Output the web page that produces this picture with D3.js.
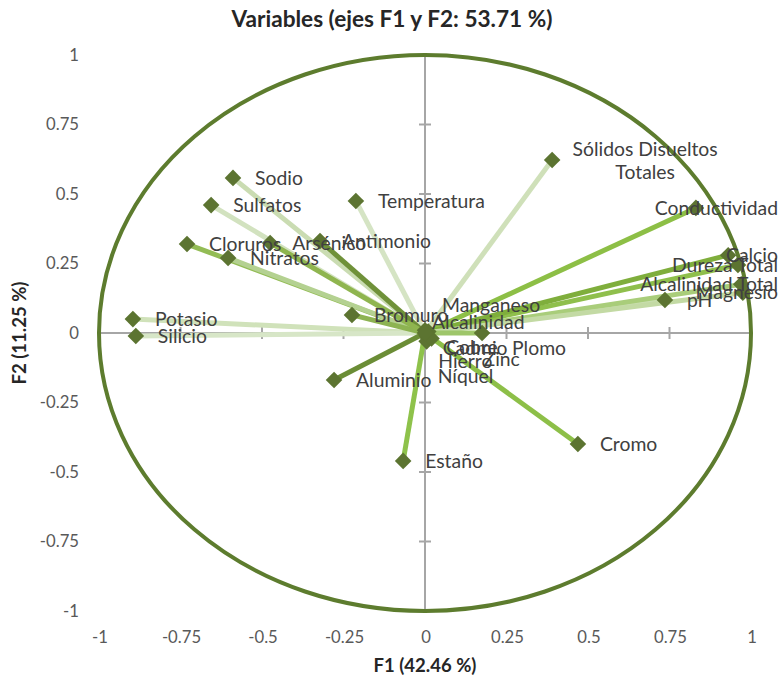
<!DOCTYPE html>
<html><head><meta charset="utf-8">
<script src="https://cdn.jsdelivr.net/npm/d3@7"></script>
<style>body{margin:0;background:#fff}svg{display:block}</style>
</head><body>
<script>
// ---- data ----
const variables = ["Temperatura","pH","Conductividad","Sólidos Disueltos Totales","Alcalinidad Total","Dureza Total","Calcio","Magnesio","Sodio","Potasio","Cloruros","Sulfatos","Nitratos","Silicio","Bromuro","Aluminio","Antimonio","Arsénico","Cadmio","Cobre","Cromo","Estaño","Hierro","Manganeso","Níquel","Plomo","Zinc","Alcalinidad"];
const f1 = [-0.212,0.736,0.831,0.390,0.970,0.960,0.930,0.975,-0.589,-0.896,-0.730,-0.656,-0.604,-0.887,-0.224,-0.279,-0.322,-0.475,0.005,0.010,0.469,-0.067,0.010,0.000,0.005,0.175,0.020,0.000];
const f2 = [0.475,0.119,0.450,0.622,0.175,0.245,0.280,0.145,0.558,0.050,0.320,0.460,0.270,-0.011,0.065,-0.169,0.331,0.324,-0.010,0.005,-0.399,-0.460,-0.020,0.010,-0.030,0.000,-0.020,0.000];
const ticks = [-1,-0.75,-0.5,-0.25,0,0.25,0.5,0.75,1];
const title = "Variables (ejes F1 y F2: 53.71 %)";
const xTitle = "F1 (42.46 %)";
const yTitle = "F2 (11.25 %)";

// ---- styles (not data) ----
const lineColors = {"Temperatura":"#d5e4c4","pH":"#c9deb0","Conductividad":"#8dbf46","Sólidos Disueltos Totales":"#cfe0b9","Alcalinidad Total":"#a9cd7a","Dureza Total":"#8fbf4c","Calcio":"#7fae3c","Magnesio":"#c3daa4","Sodio":"#cadcb2","Potasio":"#d0e2ba","Cloruros":"#93bc55","Sulfatos":"#d2e2bf","Nitratos":"#b4d191","Silicio":"#d7e6c7","Bromuro":"#8db352","Aluminio":"#6b8d36","Antimonio":"#6f9139","Arsénico":"#8fb54f","Cromo":"#8dbf48","Estaño":"#8ec24b","Plomo":"#9ec66a"};
const labelNudge = {"Manganeso":[17,-25],"Alcalinidad":[7,-11],"Cadmio":[16,12],"Cobre":[18,16],"Plomo":[30,15],"Hierro":[10,23],"Zinc":[52,21],"Níquel":[11,35]};

const W=782,H=684;
const svg=d3.select("body").append("svg").attr("width",W).attr("height",H);
const FONT="Lato, 'Open Sans', sans-serif";

const x=d3.scaleLinear().domain([-1,1]).range([99,751]);
const y=d3.scaleLinear().domain([-1,1]).range([611,55]);

function fitSize(str,target,weight){
  const t=svg.append("text").attr("font-family",FONT).attr("font-size",100).attr("font-weight",weight||"normal").text(str);
  const w=t.node().getComputedTextLength(); t.remove();
  return 100*target/w;
}
const labelSize=fitSize("Temperatura",107);
const tickSize=fitSize("0.75",33);
const titleSize=fitSize(title,321,"bold");
const axTitleSize=fitSize(xTitle,103,"bold");
const fmt=d=>String(d);

// axes (gray through origin)
const axisG=svg.append("g").attr("stroke","#a6a6a6").attr("stroke-width",2);
axisG.append("line").attr("x1",x(-1)).attr("x2",x(1)).attr("y1",y(0)).attr("y2",y(0));
axisG.append("line").attr("x1",x(0)).attr("x2",x(0)).attr("y1",y(1)).attr("y2",y(-1));
axisG.selectAll(".tx").data(ticks).join("line").attr("x1",d=>x(d)).attr("x2",d=>x(d)).attr("y1",y(0)-6).attr("y2",y(0)+6);
axisG.selectAll(".ty").data(ticks).join("line").attr("y1",d=>y(d)).attr("y2",d=>y(d)).attr("x1",x(0)-6).attr("x2",x(0)+6);

// circle of correlations
svg.append("ellipse").attr("cx",x(0)).attr("cy",y(0)).attr("rx",x(1)-x(0)).attr("ry",y(0)-y(1))
  .attr("fill","none").attr("stroke","#5d7c2e").attr("stroke-width",4);

// tick labels
svg.append("g").selectAll("text").data(ticks).join("text")
  .attr("x",79).attr("y",d=>y(d)).attr("dy","0.35em").attr("text-anchor","end")
  .attr("font-family",FONT).attr("font-size",tickSize).attr("fill","#595959").text(fmt);
svg.append("g").selectAll("text").data(ticks).join("text")
  .attr("x",d=>x(d)+1).attr("y",637).attr("dy","0.35em").attr("text-anchor","middle")
  .attr("font-family",FONT).attr("font-size",tickSize).attr("fill","#595959").text(fmt);

// titles
svg.append("text").attr("x",392).attr("y",19).attr("dy","0.35em").attr("text-anchor","middle")
  .attr("font-family",FONT).attr("font-weight","bold").attr("font-size",titleSize).attr("fill","#262626").text(title);
svg.append("text").attr("x",x(0)).attr("y",666).attr("dy","0.35em").attr("text-anchor","middle")
  .attr("font-family",FONT).attr("font-weight","bold").attr("font-size",axTitleSize).attr("fill","#262626").text(xTitle);
svg.append("text").attr("transform",`translate(19,${y(0)}) rotate(-90)`).attr("dy","0.35em").attr("text-anchor","middle")
  .attr("font-family",FONT).attr("font-weight","bold").attr("font-size",axTitleSize).attr("fill","#262626").text(yTitle);

// vectors
const data=variables.map((v,i)=>({name:v,f1:f1[i],f2:f2[i]}));
svg.append("g").selectAll("line").data(data).join("line")
  .attr("x1",x(0)).attr("y1",y(0)).attr("x2",d=>x(d.f1)).attr("y2",d=>y(d.f2))
  .attr("stroke",d=>lineColors[d.name]||"#8fba55").attr("stroke-width",5);
svg.append("g").selectAll("path").data(data).join("path")
  .attr("d",d3.symbol().type(d3.symbolDiamond2).size(175))
  .attr("transform",d=>`translate(${x(d.f1)},${y(d.f2)})`).attr("fill","#5c7431");

// labels
const lg=svg.append("g").attr("font-family",FONT).attr("font-size",labelSize).attr("fill","#404040");
data.forEach(d=>{
  const px=x(d.f1),py=y(d.f2);
  if(d.name==="Sólidos Disueltos Totales"){
    const t=lg.append("text").attr("text-anchor","middle");
    t.append("tspan").attr("x",px+93).attr("y",py-11).attr("dy","0.35em").text("Sólidos Disueltos");
    t.append("tspan").attr("x",px+93).attr("y",py+12).attr("dy","0.35em").text("Totales");
    return;
  }
  const n=labelNudge[d.name]||[22,0];
  const t=lg.append("text").attr("x",px+n[0]).attr("y",py+n[1]).attr("dy","0.35em").text(d.name);
  const w=t.node().getComputedTextLength();
  if(px+n[0]+w>778) t.attr("x",778-w);
});
</script>
</body></html>
